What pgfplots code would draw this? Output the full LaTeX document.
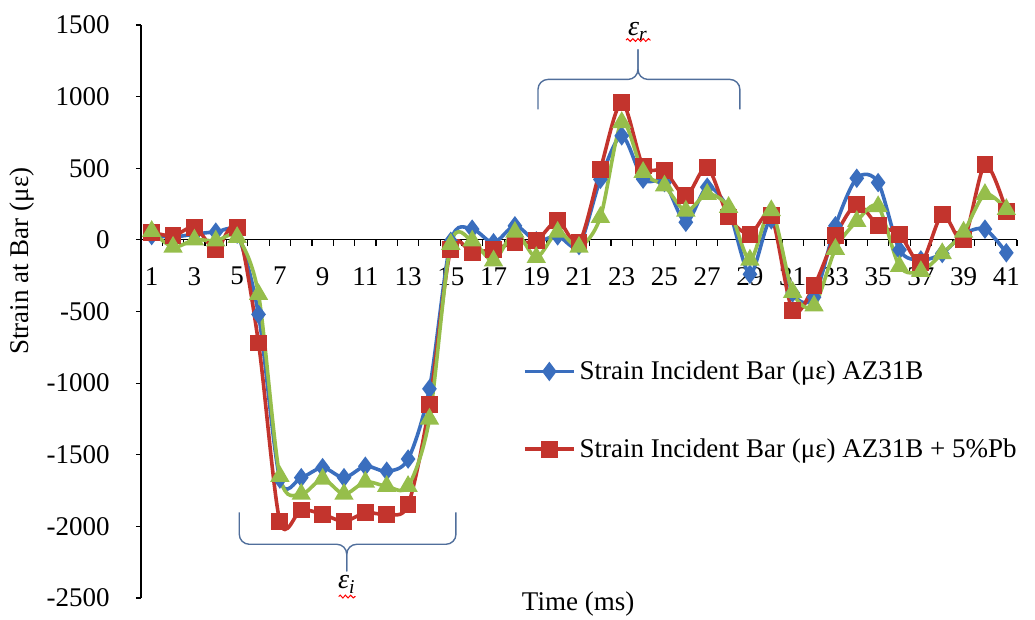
\documentclass[border=0pt]{standalone}
\usepackage{pgfplots}
\pgfplotsset{compat=1.18}
\usepackage{pgfplotstable}
\usepackage{fontspec}
\setmainfont{Liberation Serif}
\usetikzlibrary{calc,decorations.pathmorphing}
\definecolor{cblue}{RGB}{58,110,190}
\definecolor{cred}{RGB}{195,52,45}
\definecolor{cgreen}{RGB}{150,190,75}
\definecolor{cbrace}{RGB}{80,110,155}

\pgfplotstableread{
x blue red green
1 30 54 60
2 20 28 -50
3 40 88 0
4 54 -65 -7
5 40 88 18
6 -520 -720 -380
7 -1670 -1965 -1650
8 -1660 -1885 -1775
9 -1590 -1915 -1670
10 -1660 -1965 -1775
11 -1580 -1905 -1690
12 -1615 -1915 -1720
13 -1530 -1850 -1720
14 -1040 -1150 -1250
15 -10 -65 -30
16 75 -87 -7
17 -20 -65 -146
18 98 -20 54
19 -7 -7 -122
20 28 133 54
21 -40 -20 -50
22 422 493 158
23 726 960 820
24 424 516 472
25 400 482 377
26 123 307 202
27 368 507 319
28 210 160 228
29 -240 40 -140
30 140 168 205
31 -370 -495 -365
32 -400 -321 -460
33 98 28 -65
34 430 248 130
35 400 98 233
36 -70 40 -185
37 -140 -160 -220
38 -95 175 -95
39 40 0 55
40 75 525 318
41 -90 200 213
}\data

\newcommand{\fs}{\fontsize{13.5}{16}\selectfont}

\begin{document}
\begin{tikzpicture}
\begin{axis}[
  scale only axis, width=438pt, height=286.5pt,
  xmin=0.5, xmax=41.5, ymin=-2500, ymax=1500,
  axis x line=middle, axis y line=left,
  axis line style={-, black, line width=0.6pt},
  xtick={1,3,...,41},
  major x tick style={draw=none},
  minor xtick={0.5,1.5,...,41.5},
  ytick={-2500,-2000,...,1500},
  tick align=outside, major tick length=2.5pt, minor tick length=3pt,
  tick style={black, line width=0.6pt},
  /pgf/number format/assume math mode=true,
  /pgf/number format/1000 sep={},
  ticklabel style={font=\fs},
  xticklabel style={anchor=north, inner sep=0pt, yshift=-11pt},
  yticklabel style={anchor=east, inner sep=0pt, xshift=-13pt},
  clip=false,
  legend style={at={(axis cs:18.38,-1190)}, anchor=west, draw=none, fill=none,
    font=\fs, inner sep=0pt, outer sep=0pt, row sep=24pt,
    cells={anchor=west}},
  legend image code/.code={\draw[mark repeat=2,mark phase=2,#1] plot coordinates {(0pt,0pt) (12.25pt,0pt) (24.5pt,0pt)};},
]
\addplot[cblue, line width=1.8pt, smooth, mark=diamond*, mark size=3.4pt, mark options={solid, fill=cblue}] table[x=x,y=blue] {\data};
\addlegendentry{Strain Incident Bar (με) AZ31B}
\addplot[cred, line width=1.8pt, smooth, mark=square*, mark size=3.3pt, mark options={solid, fill=cred}] table[x=x,y=red] {\data};
\addlegendentry{Strain Incident Bar (με) AZ31B + 5\%Pb}
\addplot[cgreen, line width=1.8pt, smooth, mark=triangle*, mark size=3.8pt, mark options={solid, fill=cgreen}, forget plot] table[x=x,y=green] {\data};

% upper brace
\draw[cbrace, line width=0.7pt, rounded corners=5pt] (axis cs:19.08,911) |- (axis cs:23.76,1120) -- (axis cs:23.76,1330);
\draw[cbrace, line width=0.7pt, rounded corners=5pt] (axis cs:28.53,911) |- (axis cs:23.76,1120) -- (axis cs:23.76,1330);
\node[font=\fontsize{14}{16}\selectfont\itshape] at (axis cs:23.76,1455) {ε\textsubscript{r}};
\draw[red, line width=0.5pt, decorate, decoration={snake, amplitude=0.7pt, segment length=2.6pt}] (axis cs:23.2,1395) -- (axis cs:24.35,1395);

% lower brace
\draw[cbrace, line width=0.7pt, rounded corners=5pt] (axis cs:5.1,-1902) |- (axis cs:10.13,-2125) -- (axis cs:10.13,-2314);
\draw[cbrace, line width=0.7pt, rounded corners=5pt] (axis cs:15.24,-1902) |- (axis cs:10.13,-2125) -- (axis cs:10.13,-2314);
\node[font=\fontsize{14}{16}\selectfont\itshape] at (axis cs:10.13,-2405) {ε\textsubscript{i}};
\draw[red, line width=0.5pt, decorate, decoration={snake, amplitude=0.7pt, segment length=2.6pt}] (axis cs:9.75,-2490) -- (axis cs:10.55,-2490);

\node[font=\fs, rotate=90] at ($(rel axis cs:0,0.588)+(-59.5pt,0pt)$) {Strain at Bar (με)};
\node[font=\fs, anchor=base] at ($(rel axis cs:0.499,0)+(0pt,-6pt)$) {Time (ms)};

\coordinate (sw) at (rel axis cs:0,0);
\coordinate (ne) at (rel axis cs:1,1);
\end{axis}
\pgfresetboundingbox
\path ($(sw)+(-70.5pt,-10.5pt)$) rectangle ($(ne)+(9pt,12.5pt)$);
\end{tikzpicture}
\end{document}
